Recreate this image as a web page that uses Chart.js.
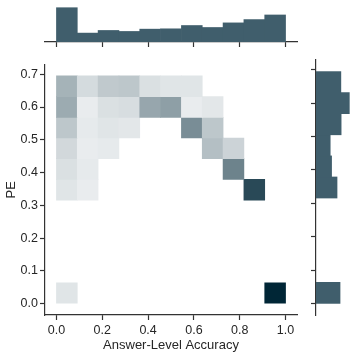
<!DOCTYPE html>
<html>
<head>
<meta charset="utf-8">
<script src="https://cdn.jsdelivr.net/npm/chart.js@4.4.1/dist/chart.umd.min.js"></script>
<style>
  html, body { margin: 0; padding: 0; background: #fff; }
  canvas { position: absolute; }
</style>
</head>
<body>
<canvas id="topHist" width="300" height="55" style="left:0;top:0"></canvas>
<canvas id="main" width="300" height="302" style="left:0;top:55px"></canvas>
<canvas id="rightHist" width="57" height="302" style="left:300px;top:55px"></canvas>
<script>
// bin edges of the 2D histogram
const accEdges = [0, 0.0909, 0.1818, 0.2727, 0.3636, 0.4545, 0.5455, 0.6364, 0.7273, 0.8182, 0.9091, 1.0];
const peEdges = [0, 0.0632, 0.1264, 0.1895, 0.2527, 0.3159, 0.3791, 0.4423, 0.5055, 0.5686, 0.6318, 0.695];

// counts per cell: one row per PE bin (low -> high), one column per accuracy bin
const counts = [
  [6, 0, 0, 0, 0, 0, 0, 0, 0, 0, 82],
  [0, 0, 0, 0, 0, 0, 0, 0, 0, 0, 0],
  [0, 0, 0, 0, 0, 0, 0, 0, 0, 0, 0],
  [0, 0, 0, 0, 0, 0, 0, 0, 0, 0, 0],
  [0, 0, 0, 0, 0, 0, 0, 0, 0, 0, 0],
  [6, 3, 0, 0, 0, 0, 0, 0, 0, 68, 0],
  [8, 4, 0, 0, 0, 0, 0, 0, 45, 0, 0],
  [11, 3, 4, 0, 0, 0, 0, 21, 13, 0, 0],
  [18, 4, 6, 5, 0, 0, 41, 18, 0, 0, 0],
  [29, 3, 8, 9, 31, 34, 3, 5, 0, 0, 0],
  [26, 10, 17, 18, 8, 6, 6, 0, 0, 0, 0]
];

const xTickStep = 0.2;
const yTickStep = 0.1;

const xMin = -0.05, xMax = 1.05;
const yMin = -0.03475, yMax = 0.72975;

Chart.defaults.font.family = '"Liberation Sans", Arial, sans-serif';
Chart.defaults.color = '#262626';

const axisColor = '#333333';
const barColor = '#405e6c';

// light -> dark ramp for the heatmap
const light = [242, 244, 245], dark = [0, 38, 54];
const maxCount = Math.max(...counts.flat());
function shade(n) {
  const t = n / maxCount;
  const c = light.map((l, i) => Math.round(l + (dark[i] - l) * t));
  return `rgb(${c[0]},${c[1]},${c[2]})`;
}

const mid = (e, i) => (e[i] + e[i + 1]) / 2;

// cells of the heatmap as floating bars
const cells = [];
counts.forEach((row, j) => {
  row.forEach((n, i) => {
    if (n > 0) cells.push({ x: mid(accEdges, i), y: [peEdges[j], peEdges[j + 1]], n: n });
  });
});

const colTotals = accEdges.slice(0, -1).map((_, i) => counts.reduce((s, r) => s + r[i], 0));
const rowTotals = counts.map(r => r.reduce((a, b) => a + b, 0));

const tickGrid = {
  display: true,
  drawOnChartArea: false,
  drawTicks: true,
  tickLength: 5,
  tickColor: axisColor,
  tickWidth: 1.2
};
const axisBorder = { display: true, color: axisColor, width: 1.2 };
const noPlugins = { legend: { display: false }, tooltip: { enabled: false } };

// main joint histogram
new Chart(document.getElementById('main'), {
  type: 'bar',
  data: {
    datasets: [{
      data: cells,
      backgroundColor: ctx => shade(ctx.raw.n),
      borderWidth: 0,
      grouped: false,
      barPercentage: 1,
      categoryPercentage: 1
    }]
  },
  options: {
    responsive: false,
    animation: false,
    layout: { padding: { top: 5, right: 3, left: 0, bottom: 0 } },
    plugins: noPlugins,
    scales: {
      x: {
        type: 'linear',
        offset: false,
        min: xMin,
        max: xMax,
        grid: Object.assign({ offset: false }, tickGrid),
        border: axisBorder,
        ticks: {
          stepSize: xTickStep,
          includeBounds: false,
          padding: 3,
          font: { size: 12.5 },
          maxRotation: 0,
          callback: v => v.toFixed(1)
        },
        title: {
          display: true,
          text: 'Answer-Level Accuracy',
          font: { size: 13 },
          padding: { top: 0, bottom: 4 }
        },
        afterFit: s => { s.height = 42; }
      },
      y: {
        type: 'linear',
        min: yMin,
        max: yMax,
        grid: tickGrid,
        border: axisBorder,
        ticks: {
          stepSize: yTickStep,
          includeBounds: false,
          padding: 2,
          font: { size: 12.5 },
          callback: v => v.toFixed(1)
        },
        title: {
          display: true,
          text: 'PE',
          font: { size: 13 },
          padding: { top: 4, bottom: 0 }
        },
        afterFit: s => { s.width = 45; }
      }
    }
  }
});

// marginal histogram on top
new Chart(document.getElementById('topHist'), {
  type: 'bar',
  data: {
    datasets: [{
      data: colTotals.map((n, i) => ({ x: mid(accEdges, i), y: n })),
      backgroundColor: barColor,
      borderWidth: 0,
      barPercentage: 1,
      categoryPercentage: 1
    }]
  },
  options: {
    responsive: false,
    animation: false,
    layout: { padding: { top: 6, right: 3, left: 45, bottom: 0 } },
    plugins: noPlugins,
    scales: {
      x: {
        type: 'linear',
        offset: false,
        min: xMin,
        max: xMax,
        grid: Object.assign({ offset: false }, tickGrid),
        border: axisBorder,
        ticks: { display: false, stepSize: xTickStep, includeBounds: false },
        afterFit: s => { s.height = 13; }
      },
      y: {
        display: false,
        min: 0,
        max: Math.max(...colTotals) * 1.05
      }
    }
  }
});

// marginal histogram on the right
new Chart(document.getElementById('rightHist'), {
  type: 'bar',
  data: {
    datasets: [{
      data: rowTotals.map((n, j) => ({ x: n, y: mid(peEdges, j) })).filter(d => d.x > 0),
      backgroundColor: barColor,
      borderWidth: 0,
      barPercentage: 1,
      categoryPercentage: 1
    }]
  },
  options: {
    indexAxis: 'y',
    responsive: false,
    animation: false,
    layout: { padding: { top: 5, right: 6, left: 0, bottom: 42 } },
    plugins: noPlugins,
    scales: {
      y: {
        type: 'linear',
        offset: false,
        min: yMin,
        max: yMax,
        grid: Object.assign({ offset: false }, tickGrid),
        border: axisBorder,
        ticks: { display: false, stepSize: yTickStep, includeBounds: false },
        afterFit: s => { s.width = 16; }
      },
      x: {
        display: false,
        min: 0,
        max: Math.max(...rowTotals) * 1.05
      }
    }
  }
});
</script>
</body>
</html>
